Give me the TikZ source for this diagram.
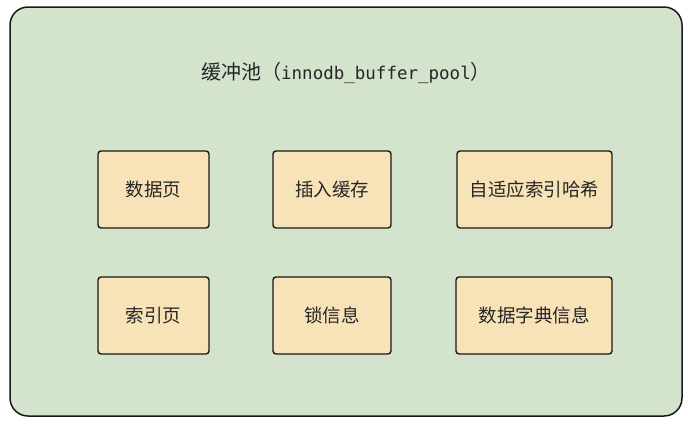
\documentclass[tikz,border=0pt]{standalone}
\usepackage{fontspec}
\setmainfont{Noto Sans CJK SC}
\newfontfamily\poolmono{DejaVu Sans Mono}
\definecolor{poolgreen}{HTML}{D3E3CC}
\definecolor{pagefill}{HTML}{F8E2B8}

\begin{document}
\begin{tikzpicture}[x=1pt,y=-1pt]
            \tikzstyle{area}=[draw=black!90, line width=1.5pt, fill=poolgreen,
            rounded corners=18pt]
            \tikzstyle{part}=[rectangle, draw=black!90, line width=1.4pt,
            fill=pagefill, rounded corners=3pt, minimum height=77pt,
            inner sep=0pt, text=black!85, font=\fontsize{18.5}{22}\selectfont]
            \useasboundingbox (0,0) rectangle (691,432);
            \draw[area] (10,7) rectangle (682,416);
            \node[text=black!85, font=\fontsize{20}{24}\selectfont] (pool) at (346,73)
            {缓冲池（{\poolmono\fontsize{17.5}{20}\selectfont innodb\_buffer\_pool}）};
            \foreach \x/\y/\w/\n/\t in {153.5/189.5/111/data/数据页,
                332/189.5/118/insert/插入缓存,
                534.5/189.5/155/hash/自适应索引哈希,
                153.5/315.5/111/index/索引页,
                332/315.5/118/lock/锁信息,
                534/315.5/156/dict/数据字典信息}
            \node[part, minimum width=\w pt] (\n) at (\x,\y) {\t};
        \end{tikzpicture}
\end{document}
